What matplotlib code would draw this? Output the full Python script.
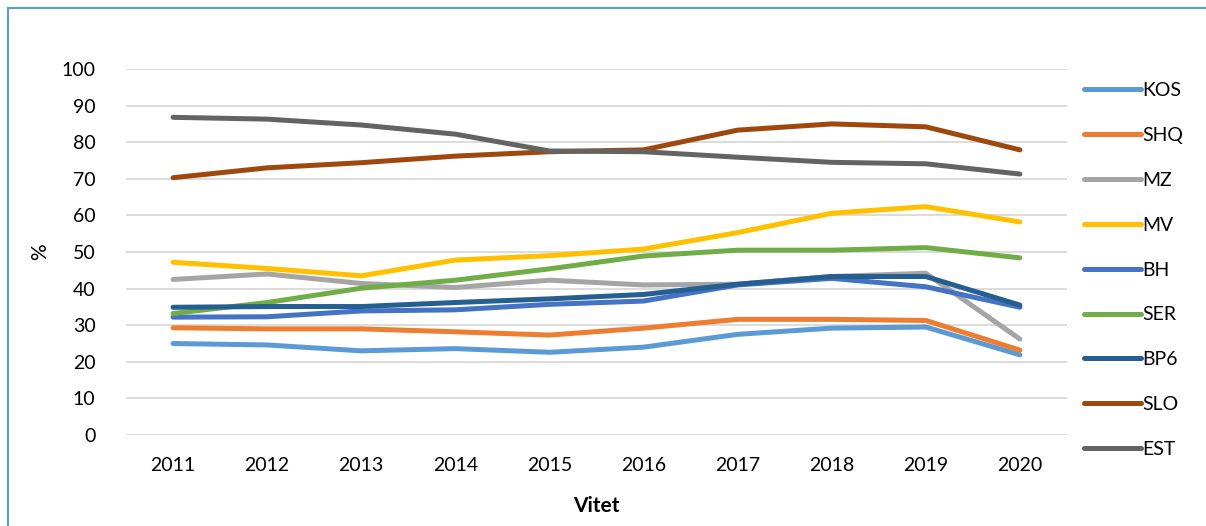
import matplotlib
matplotlib.use("Agg")
import matplotlib.pyplot as plt
from matplotlib.lines import Line2D

plt.rcParams['font.family'] = ['Lato', 'DejaVu Sans']

years = ['2011', '2012', '2013', '2014', '2015', '2016', '2017', '2018', '2019', '2020']

kos = [25.0, 24.6, 23.0, 23.6, 22.6, 24.0, 27.5, 29.2, 29.5, 21.9]
shq = [29.3, 29.0, 29.0, 28.2, 27.3, 29.2, 31.6, 31.6, 31.3, 23.2]
mz = [42.5, 44.0, 41.4, 40.3, 42.3, 41.0, 41.2, 43.3, 44.2, 26.2]
mv = [47.2, 45.5, 43.5, 47.8, 49.0, 50.8, 55.3, 60.6, 62.4, 58.2]
bh = [32.2, 32.3, 33.9, 34.2, 35.7, 36.6, 41.0, 42.8, 40.5, 34.9]
ser = [33.2, 36.2, 40.1, 42.3, 45.4, 48.9, 50.5, 50.5, 51.2, 48.4]
bp6 = [34.9, 35.1, 35.1, 36.2, 37.2, 38.4, 41.2, 43.3, 43.3, 35.5]
slo = [70.3, 73.0, 74.4, 76.2, 77.4, 77.9, 83.3, 85.0, 84.2, 77.9]
est = [86.8, 86.3, 84.7, 82.2, 77.6, 77.4, 75.9, 74.5, 74.1, 71.3]

names = ['KOS', 'SHQ', 'MZ', 'MV', 'BH', 'SER', 'BP6', 'SLO', 'EST']
series = [kos, shq, mz, mv, bh, ser, bp6, slo, est]
colors = ['#5B9BD5', '#ED7D31', '#A5A5A5', '#FFC000', '#4472C4',
          '#70AD47', '#255E91', '#9E480E', '#636363']

fig = plt.figure(figsize=(12.06, 5.26), dpi=100)
ax = fig.add_axes([0.1045, 0.173, 0.7802, 0.6958])

x = list(range(len(years)))
for name, vals, c in zip(names, series, colors):
    ax.plot(x, vals, color=c, lw=3.6, solid_capstyle='round',
            solid_joinstyle='round', label=name)

ax.set_xlim(-0.5, len(years) - 0.5)
ax.set_ylim(0, 100)
ax.set_yticks(range(0, 101, 10))
ax.set_xticks(x)
ax.set_xticklabels(years)
ax.tick_params(length=0, labelsize=14, pad=16)
ax.tick_params(axis='y', pad=22)
ax.grid(axis='y', color='#D9D9D9', lw=1.3)
ax.set_axisbelow(True)
for s in ax.spines.values():
    s.set_visible(False)

ax.set_xlabel('Vitet', fontsize=15, fontweight='bold', labelpad=16)
ax.set_ylabel('%', fontsize=15, labelpad=8)

ax.legend(loc='upper left', bbox_to_anchor=(1.01, 0.985), frameon=False,
          fontsize=14, handlelength=2.9, handletextpad=0.1, labelspacing=1.43,
          borderaxespad=0)

# light blue frame (top and left only visible)
fig.add_artist(Line2D([8 / 1206, 1], [1 - 8 / 526, 1 - 8 / 526],
                      transform=fig.transFigure, color='#5B9BD5', lw=1.5))
fig.add_artist(Line2D([8 / 1206, 8 / 1206], [0, 1 - 8 / 526],
                      transform=fig.transFigure, color='#5B9BD5', lw=1.5))

fig.savefig('out.png', dpi=100)
